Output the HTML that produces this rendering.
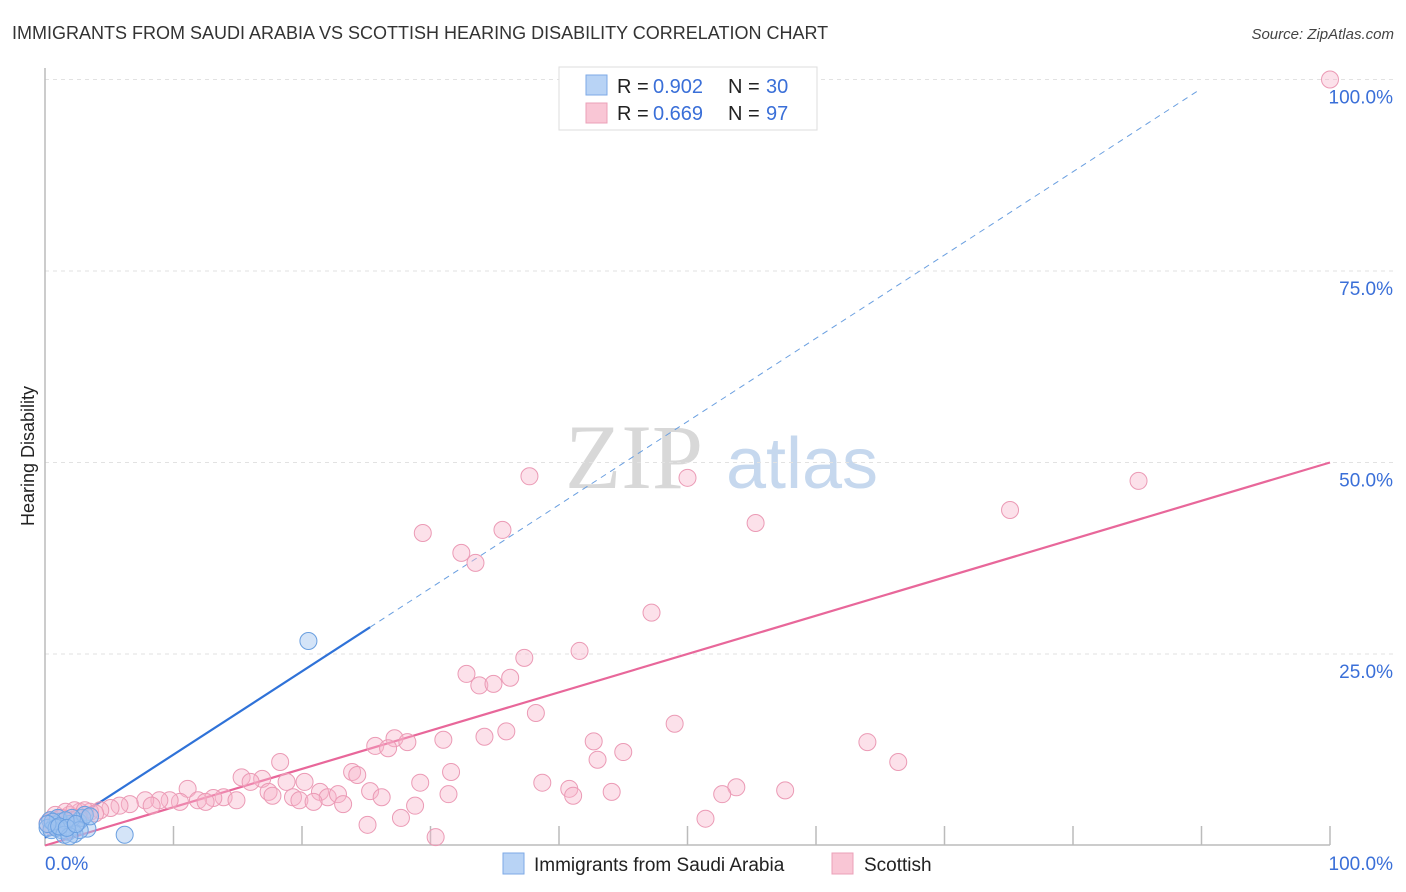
<!DOCTYPE html>
<html><head><meta charset="utf-8"><style>
body{margin:0;background:#fff;font-family:"Liberation Sans",sans-serif;}
svg{display:block}
</style></head><body>
<svg id="c" width="1406" height="892">
<text x="12" y="39" font-size="18" fill="#333">IMMIGRANTS FROM SAUDI ARABIA VS SCOTTISH HEARING DISABILITY CORRELATION CHART</text>
<text x="1394" y="39" font-size="15" font-style="italic" fill="#444" text-anchor="end">Source: ZipAtlas.com</text>
<text x="34" y="456" font-size="18" fill="#222" transform="rotate(-90 34 456)" text-anchor="middle">Hearing Disability</text>
<g>
<text x="634" y="488" font-size="92" font-family="Liberation Serif,serif" fill="#d8d8d8" text-anchor="middle">ZIP</text>
<text x="802" y="488" font-size="72" fill="#c6d8ee" text-anchor="middle">atlas</text>
</g>
<g id="grid"></g><g id="axes"></g><g id="lines"></g><g id="pts"></g>
<g>
<rect x="559" y="67" width="258" height="63" fill="#fff" stroke="#ddd"/>
<rect x="586" y="75" width="21" height="20" fill="#b8d3f5" stroke="#7eaae6"/>
<rect x="586" y="103" width="21" height="20" fill="#f9c6d5" stroke="#eba0b8"/>
<text x="617" y="93" font-size="20" fill="#222">R =</text>
<text x="653" y="93" font-size="20" fill="#3a6fd8">0.902</text>
<text x="728" y="93" font-size="20" fill="#222">N =</text>
<text x="766" y="93" font-size="20" fill="#3a6fd8">30</text>
<text x="617" y="120" font-size="20" fill="#222">R =</text>
<text x="653" y="120" font-size="20" fill="#3a6fd8">0.669</text>
<text x="728" y="120" font-size="20" fill="#222">N =</text>
<text x="766" y="120" font-size="20" fill="#3a6fd8">97</text>
</g>
<g>
<rect x="503" y="853" width="21" height="21" fill="#b8d3f5" stroke="#7eaae6"/>
<text x="534" y="871" font-size="19" fill="#222">Immigrants from Saudi Arabia</text>
<rect x="832" y="853" width="21" height="21" fill="#f9c6d5" stroke="#eba0b8"/>
<text x="864" y="871" font-size="19" fill="#222">Scottish</text>
</g>
</svg>
<script>
const xTickLabels=["0.0%","100.0%"];
const yTicks=[25,50,75,100];
const yTickLabels=["25.0%","50.0%","75.0%","100.0%"];
const pinkX=[100,37.7,50.0,85.1,75.1,55.3,29.4,35.6,32.4,33.5,47.2,41.6,37.3,32.8,33.8,34.9,36.2,38.2,49.0,35.9,34.2,64.0,42.7,31.0,27.2,25.7,26.7,28.2,45.0,43.0,66.4,18.3,23.9,24.3,15.3,16.9,16.0,18.8,20.2,29.2,31.6,38.7,53.8,57.6,52.7,40.8,44.1,31.4,25.3,26.2,17.4,17.7,11.1,21.4,22.0,22.8,19.3,19.8,20.9,23.2,28.8,13.9,14.9,13.1,11.9,12.5,10.5,9.7,8.9,7.8,8.3,6.6,5.8,5.1,4.3,3.5,2.7,1.9,1.2,0.4,0.8,1.6,2.3,3.1,25.1,27.7,30.4,51.4,41.1,0.2,0.5,1.0,1.3,1.6,2.1,2.6,3.9];
const pinkY=[100,48.2,48.0,47.6,43.8,42.1,40.8,41.2,38.2,36.9,30.4,25.4,24.5,22.4,20.9,21.1,21.9,17.3,15.9,14.9,14.2,13.5,13.6,13.8,14.0,13.0,12.7,13.5,12.2,11.2,10.9,10.9,9.6,9.2,8.9,8.7,8.3,8.3,8.3,8.2,9.6,8.2,7.6,7.2,6.7,7.4,7.0,6.7,7.1,6.3,7.0,6.5,7.4,7.0,6.3,6.7,6.3,5.9,5.7,5.4,5.2,6.3,5.9,6.2,5.9,5.7,5.7,5.9,5.9,5.9,5.2,5.4,5.2,4.9,4.6,4.4,4.4,4.0,3.6,3.3,4.0,4.4,4.6,4.6,2.7,3.6,1.1,3.5,6.5,2.9,2.5,3.1,3.6,2.8,3.3,3.6,4.2];
const blueX=[20.5,6.2,3.3,1.8,2.3,0.4,0.8,1.2,1.6,1.9,0.2,0.5,1.0,1.3,2.6,2.9,2.3,3.1,2.1,1.6,0.6,0.9,2.7,1.5,1.9,0.2,1.1,1.7,2.4,3.5];
const blueY=[26.7,1.4,2.2,1.8,2.5,3.3,2.7,3.1,2.5,2.8,2.3,2.0,3.6,2.0,3.1,3.6,1.5,4.0,3.6,3.3,3.1,2.3,2.0,1.4,1.2,2.8,2.5,2.3,2.8,3.8];
const blueFit=[1.0,1.087]; // intercept, slope
const pinkFit=[0.0,0.5];
const X=v=>45+v*12.85, Y=v=>845.5-v*7.66;
const NS="http://www.w3.org/2000/svg";
function mk(p,t,a){const e=document.createElementNS(NS,t);for(const k in a)e.setAttribute(k,a[k]);p.appendChild(e);return e;}
const grid=document.getElementById('grid'),axes=document.getElementById('axes'),lines=document.getElementById('lines'),pts=document.getElementById('pts');
yTicks.forEach((t,i)=>{
 const g=mk(grid,'line',{x1:45,x2:1395,y1:Y(t),y2:Y(t),stroke:'#e2e2e2','stroke-dasharray':'4,4'});
 
 
 const l=mk(axes,'text',{x:1393,y:Y(t)+24,'font-size':19,fill:'#3a6fd8','text-anchor':'end'});l.textContent=yTickLabels[i];
 
 
});
const ax=mk(axes,'path',{d:'M45,68V845H1330',fill:'none',stroke:'#bbb','stroke-width':1.5});


for(let i=1;i<=10;i++){const t=mk(axes,'line',{x1:X(i*10),x2:X(i*10),y1:826,y2:845,stroke:'#bbb','stroke-width':1.5});
 
 }
[[0,'start',45],[100,'end',1393]].forEach((d,i)=>{const t=mk(axes,'text',{x:d[2],y:870,'font-size':19,fill:'#3a6fd8','text-anchor':d[1]});t.textContent=xTickLabels[i];
 
 });
function dot(x,y,fill,stroke,name){const c=mk(pts,'circle',{cx:X(x),cy:Y(y),r:8.5,fill:fill,stroke:stroke,'stroke-width':1});
 
 }
pinkX.forEach((x,i)=>dot(x,pinkY[i],'rgba(248,180,202,0.4)','#eb9ab5','scottish-point'));
blueX.forEach((x,i)=>dot(x,blueY[i],'rgba(160,196,240,0.45)','#6a9fe0','saudi-point'));
let e=mk(lines,'line',{x1:X(0),y1:Y(pinkFit[0]),x2:X(100),y2:Y(pinkFit[0]+pinkFit[1]*100),stroke:'#e8679a','stroke-width':2.2});


e=mk(lines,'line',{x1:X(0),y1:Y(blueFit[0]),x2:X(25.3),y2:Y(blueFit[0]+blueFit[1]*25.3),stroke:'#2f72d8','stroke-width':2.2});


e=mk(lines,'line',{x1:X(25.3),y1:Y(blueFit[0]+blueFit[1]*25.3),x2:X(89.9),y2:Y(blueFit[0]+blueFit[1]*89.9),stroke:'#6a9fe0','stroke-width':1,'stroke-dasharray':'6,5'});


</script>
</body></html>
